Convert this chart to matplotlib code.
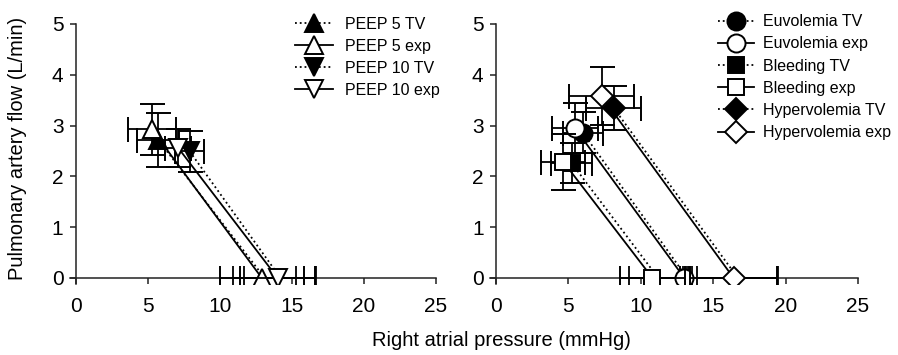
import matplotlib.pyplot as plt
from matplotlib.lines import Line2D

plt.rcParams['font.family'] = ['Liberation Sans', 'DejaVu Sans']

# left panel: PEEP
peep_names = ["PEEP 5 TV", "PEEP 5 exp", "PEEP 10 TV", "PEEP 10 exp"]
peep_markers = ["^", "^", "v", "v"]
peep_filled = [True, False, True, False]
peep_x = [5.7, 5.26, 7.9, 7.1]
peep_y = [2.72, 2.93, 2.49, 2.56]
peep_xerr = [1.45, 1.67, 1.0, 0.9]
peep_yerr = [0.53, 0.5, 0.4, 0.38]
peep_icpt = [13.1, 12.9, 14.2, 14.0]
peep_icpt_err = [2.2, 2.9, 2.5, 2.6]

# right panel: volume status
vol_names = ["Euvolemia TV", "Euvolemia exp", "Bleeding TV", "Bleeding exp",
             "Hypervolemia TV", "Hypervolemia exp"]
vol_markers = ["o", "o", "s", "s", "D", "D"]
vol_filled = [True, False, True, False, True, False]
vol_x = [6.0, 5.45, 5.22, 4.64, 8.14, 7.29]
vol_y = [2.86, 2.95, 2.26, 2.29, 3.34, 3.58]
vol_xerr = [1.4, 1.6, 1.4, 1.5, 1.9, 2.25]
vol_yerr = [0.4, 0.5, 0.4, 0.55, 0.43, 0.57]
vol_icpt = [13.2, 13.0, 11.2, 10.8, 16.7, 16.4]
vol_icpt_err = [0.3, 0.3, 2.0, 2.25, 2.8, 3.0]

marker_size = {"^": 13.5, "v": 13.5, "o": 13, "s": 12, "D": 11.5}

fig = plt.figure(figsize=(8.98, 3.55), dpi=100)
ax1 = fig.add_axes([0.0782, 0.2, 0.4073, 0.7324])
ax2 = fig.add_axes([0.5459, 0.2, 0.4096, 0.7324])


def draw_panel(ax, names, markers, filled, xs, ys, xerr, yerr, icpt, icpt_err):
    handles = []
    for i in range(len(names)):
        ls = ":" if filled[i] else "-"
        fc = "black" if filled[i] else "white"
        ms = marker_size[markers[i]]
        # line from the point down to the x intercept
        ax.plot([xs[i], icpt[i]], [ys[i], 0], color="black", ls=ls, lw=1.3, zorder=2)
        # point with error bars
        ax.errorbar(xs[i], ys[i], xerr=xerr[i], yerr=yerr[i], fmt=markers[i],
                    ms=ms, mfc=fc, mec="black", mew=1.4, ecolor="black",
                    elinewidth=1.3, capsize=9, capthick=1.3, zorder=3 + i)
        # intercept
        if filled[i]:
            ax.errorbar(icpt[i], 0, xerr=icpt_err[i], fmt="none", ecolor="black",
                        elinewidth=1.3, capsize=9, capthick=1.3, zorder=3)
        else:
            ax.errorbar(icpt[i], 0, xerr=icpt_err[i], fmt=markers[i], ms=ms,
                        mfc="white", mec="black", mew=1.4, ecolor="black",
                        elinewidth=1.3, capsize=9, capthick=1.3, zorder=10 + i)
        handles.append(Line2D([], [], color="black", ls=ls, lw=1.3,
                              marker=markers[i], ms=ms, mfc=fc, mec="black",
                              mew=1.4, label=names[i]))

    ax.set_xlim(-0.4, 25)
    ax.set_ylim(-0.12, 5)
    ax.set_xticks([0, 5, 10, 15, 20, 25])
    ax.set_yticks([0, 1, 2, 3, 4, 5])
    ax.spines["left"].set_position(("data", 0))
    ax.spines["bottom"].set_position(("data", 0))
    ax.spines["top"].set_visible(False)
    ax.spines["right"].set_visible(False)
    for s in ["left", "bottom"]:
        ax.spines[s].set_linewidth(1.1)
        ax.spines[s].set_color("#222222")
    ax.tick_params(labelsize=15, length=4, width=1.1, color="#222222")
    ax.tick_params(axis="x", pad=10)
    ax.tick_params(axis="y", pad=5)
    return handles


h1 = draw_panel(ax1, peep_names, peep_markers, peep_filled, peep_x, peep_y,
                peep_xerr, peep_yerr, peep_icpt, peep_icpt_err)
h2 = draw_panel(ax2, vol_names, vol_markers, vol_filled, vol_x, vol_y,
                vol_xerr, vol_yerr, vol_icpt, vol_icpt_err)

fig.legend(handles=h1, loc="upper left", bbox_to_anchor=(0.3285, 0.952),
           frameon=False, fontsize=11.5, borderpad=0, borderaxespad=0,
           labelspacing=0.43, handlelength=2.4, handletextpad=0.7)
fig.legend(handles=h2, loc="upper left", bbox_to_anchor=(0.8, 0.96),
           frameon=False, fontsize=11.5, borderpad=0, borderaxespad=0,
           labelspacing=0.45, handlelength=2.2, handletextpad=0.6)

fig.text(0.558, 0.042, "Right atrial pressure (mmHg)", ha="center", va="center",
         fontsize=14.5)
fig.text(0.019, 0.583, "Pulmonary artery flow (L/min)", ha="center", va="center",
         rotation=90, fontsize=14.5)

fig.savefig("out.png", dpi=100)
